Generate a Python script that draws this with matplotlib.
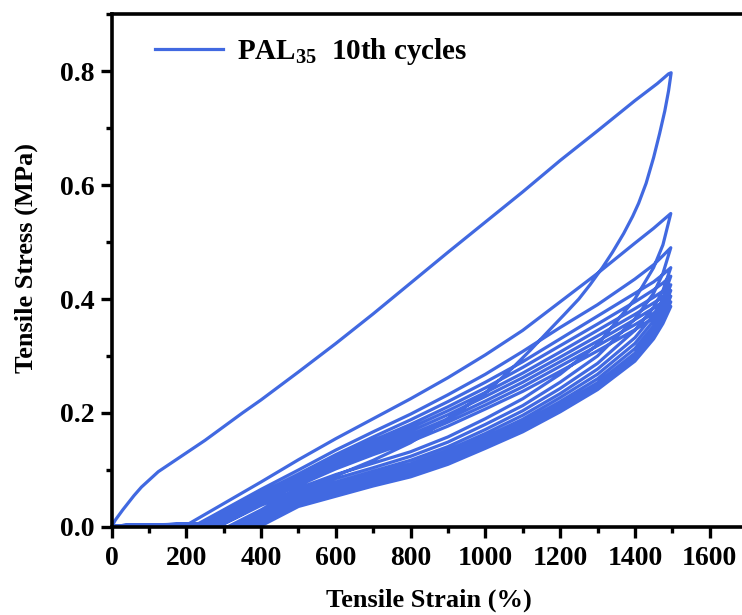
"""Curvas de tração cíclica (10 ciclos) do PAL35."""

import matplotlib

matplotlib.use("Agg")
import matplotlib.pyplot as plt
from matplotlib.ticker import MultipleLocator

# Ciclo 1: carregamento e descarregamento
c1_load_strain = [0, 10, 30, 60, 80, 100, 125, 150, 200, 250, 300, 350, 400,
                  500, 600, 700, 800, 900, 1000, 1100, 1200, 1300, 1400, 1460,
                  1490]
c1_load_stress = [0.0, 0.012, 0.03, 0.055, 0.07, 0.082, 0.097, 0.108, 0.13,
                  0.152, 0.176, 0.2, 0.223, 0.272, 0.322, 0.374, 0.428, 0.482,
                  0.535, 0.588, 0.643, 0.695, 0.748, 0.778, 0.795]
c1_unload_strain = [1497, 1490, 1480, 1466, 1450, 1430, 1410, 1394, 1370, 1340,
                    1314, 1280, 1250, 1210, 1172, 1120, 1074, 1000, 900, 800,
                    700, 600, 500, 400, 330, 280, 0]
c1_unload_stress = [0.797, 0.765, 0.73, 0.69, 0.648, 0.603, 0.568, 0.545,
                    0.515, 0.482, 0.456, 0.425, 0.4, 0.372, 0.346, 0.31, 0.28,
                    0.235, 0.19, 0.148, 0.117, 0.09, 0.065, 0.038, 0.015, 0.0,
                    0.0]

# Ciclos 2 a 10: valores sobre uma grade comum de deformação
grid_strain = [400, 500, 600, 700, 800, 900, 1000, 1100, 1200, 1300, 1400,
               1450, 1475]
peak_strain = 1496
peak_stress = [0.55, 0.49, 0.455, 0.44, 0.425, 0.415, 0.405, 0.395, 0.387]
load_start = [205, 230, 245, 258, 268, 276, 284, 292, 300]
unload_end = [310, 325, 338, 350, 360, 368, 376, 383, 390]

load_stress = [
    [0.079, 0.118, 0.155, 0.19, 0.225, 0.262, 0.302, 0.345, 0.395, 0.445, 0.498, 0.524, 0.538],
    [0.066, 0.100, 0.135, 0.167, 0.198, 0.232, 0.268, 0.308, 0.35, 0.39, 0.435, 0.46, 0.476],
    [0.060, 0.093, 0.127, 0.158, 0.188, 0.22, 0.254, 0.29, 0.33, 0.37, 0.41, 0.43, 0.443],
    [0.056, 0.089, 0.122, 0.152, 0.18, 0.211, 0.244, 0.28, 0.318, 0.356, 0.395, 0.416, 0.428],
    [0.053, 0.086, 0.118, 0.147, 0.174, 0.204, 0.236, 0.27, 0.307, 0.345, 0.383, 0.403, 0.414],
    [0.050, 0.083, 0.114, 0.142, 0.168, 0.197, 0.229, 0.262, 0.298, 0.335, 0.373, 0.393, 0.404],
    [0.047, 0.080, 0.110, 0.137, 0.162, 0.19, 0.221, 0.254, 0.29, 0.326, 0.364, 0.384, 0.394],
    [0.044, 0.077, 0.106, 0.132, 0.156, 0.184, 0.214, 0.246, 0.282, 0.318, 0.355, 0.375, 0.385],
    [0.041, 0.073, 0.102, 0.127, 0.15, 0.177, 0.207, 0.238, 0.273, 0.309, 0.346, 0.367, 0.377],
]
unload_stress = [
    [0.030, 0.068, 0.092, 0.112, 0.132, 0.158, 0.19, 0.225, 0.268, 0.32, 0.40, 0.455, 0.495],
    [0.025, 0.062, 0.085, 0.104, 0.124, 0.149, 0.18, 0.213, 0.254, 0.30, 0.365, 0.41, 0.445],
    [0.020, 0.057, 0.079, 0.098, 0.117, 0.141, 0.171, 0.204, 0.243, 0.287, 0.345, 0.385, 0.415],
    [0.016, 0.053, 0.074, 0.093, 0.111, 0.135, 0.164, 0.196, 0.234, 0.277, 0.332, 0.372, 0.40],
    [0.012, 0.049, 0.070, 0.088, 0.106, 0.129, 0.158, 0.189, 0.227, 0.268, 0.322, 0.362, 0.39],
    [0.009, 0.046, 0.066, 0.084, 0.101, 0.124, 0.152, 0.183, 0.220, 0.26, 0.313, 0.353, 0.38],
    [0.006, 0.042, 0.062, 0.080, 0.097, 0.119, 0.147, 0.177, 0.214, 0.253, 0.305, 0.345, 0.372],
    [0.004, 0.039, 0.058, 0.076, 0.092, 0.114, 0.142, 0.172, 0.208, 0.247, 0.298, 0.337, 0.364],
    [0.002, 0.036, 0.054, 0.072, 0.088, 0.110, 0.138, 0.167, 0.202, 0.241, 0.291, 0.330, 0.357],
]

COR = "#4169E1"

plt.rcParams["font.family"] = ["Liberation Serif", "DejaVu Serif"]
plt.rcParams["font.weight"] = "bold"
plt.rcParams["mathtext.fontset"] = "custom"
plt.rcParams["mathtext.rm"] = "Liberation Serif:bold"
plt.rcParams["mathtext.bf"] = "Liberation Serif:bold"
plt.rcParams["mathtext.default"] = "bf"

fig = plt.figure(figsize=(7.42, 6.15), dpi=100)
eixo = fig.add_axes([0.1503, 0.1431, 0.8565, 0.8341])

# caminho contínuo: ciclo 1 e depois ciclos 2..10
xs = list(c1_load_strain) + list(c1_unload_strain)
ys = list(c1_load_stress) + list(c1_unload_stress)
for i in range(len(peak_stress)):
    xs += [0, 120, load_start[i]] + grid_strain + [peak_strain]
    ys += [0.002, 0.004, 0.005] + load_stress[i] + [peak_stress[i]]
    xs += grid_strain[::-1] + [unload_end[i], 0]
    ys += unload_stress[i][::-1] + [0.0, 0.0]

eixo.plot(xs, ys, color=COR, lw=2.3, solid_joinstyle="round",
          label=r"PAL$_{35}$  10th cycles")

eixo.set_xlim(0, 1700)
eixo.set_ylim(0, 0.9)
eixo.xaxis.set_major_locator(MultipleLocator(200))
eixo.xaxis.set_minor_locator(MultipleLocator(100))
eixo.yaxis.set_major_locator(MultipleLocator(0.2))
eixo.yaxis.set_minor_locator(MultipleLocator(0.1))
eixo.tick_params(which="major", direction="out", length=8, width=2.4,
                 labelsize=20)
eixo.tick_params(axis="x", which="major", pad=6)
eixo.tick_params(axis="y", which="major", pad=4)
eixo.tick_params(which="minor", direction="out", length=4.5, width=2.4)
for spine in eixo.spines.values():
    spine.set_linewidth(2.6)

eixo.set_xlabel("Tensile Strain (%)", fontsize=19, fontweight="bold", labelpad=12)
eixo.set_ylabel("Tensile Stress (MPa)", fontsize=19, fontweight="bold")
eixo.yaxis.set_label_coords(-0.116, 0.524)

eixo.legend(loc="upper left", frameon=False, fontsize=21, handlelength=2.3,
            handletextpad=0.5, borderaxespad=0.3, bbox_to_anchor=(0.037, 0.997))

fig.savefig("out.png", dpi=100)
plt.close(fig)
